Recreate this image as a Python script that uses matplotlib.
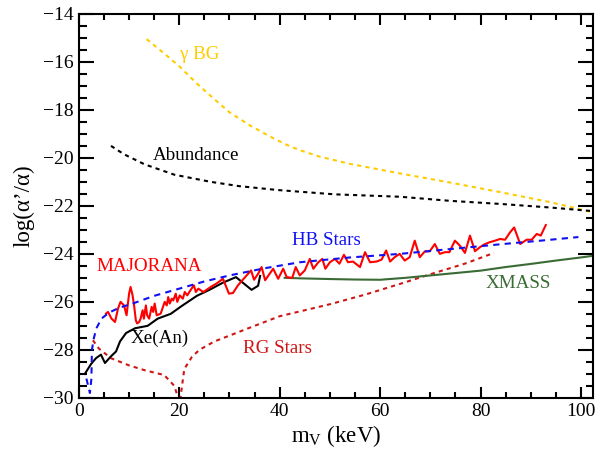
import matplotlib
matplotlib.use("Agg")
import matplotlib.pyplot as plt
from matplotlib.ticker import MultipleLocator

plt.rcParams['font.family'] = ['Liberation Serif', 'DejaVu Serif']
plt.rcParams['mathtext.fontset'] = 'custom'
plt.rcParams['mathtext.rm'] = 'Liberation Serif'
plt.rcParams['mathtext.it'] = 'Liberation Serif:italic'

# gamma background (dotted gold)
bg_x = [13.5, 17.0, 20.1, 23.5, 26.7, 30.0, 34.1, 38.0, 41.0, 44.0, 48.0, 54.0, 64.0, 74.0,
        84.0, 94.0, 102.4]
bg_y = [-15.05, -15.65, -16.2, -16.9, -17.5, -18.1, -18.65, -19.1, -19.42, -19.68, -19.95,
        -20.25, -20.65, -21.03, -21.43, -21.85, -22.27]

# relic abundance (dotted black)
ab_x = [6.4, 9.0, 13.1, 19.0, 26.3, 32.0, 39.6, 44.0, 51.0, 64.0, 73.9, 84.0, 94.0, 102.4]
ab_y = [-19.5, -19.85, -20.27, -20.7, -21.0, -21.18, -21.34, -21.41, -21.52, -21.62, -21.79,
        -21.92, -22.07, -22.22]

# HB stars (dashed blue)
hb_x = [1.5, 2.2, 2.5, 2.6, 3.0, 3.5, 4.5, 6.0, 8.0, 11.0, 15.0, 20.0, 25.0, 30.0, 37.0,
        44.0, 54.0, 64.0, 74.0, 84.0, 92.0, 99.5]
hb_y = [-29.2, -29.8, -29.2, -28.0, -27.5, -27.1, -26.7, -26.45, -26.25, -26.05, -25.75,
        -25.45, -25.15, -24.9, -24.6, -24.35, -24.15, -24.0, -23.8, -23.6, -23.45, -23.3]

# RG stars (dotted dark red)
rg_x = [2.8, 4.0, 6.4, 10.0, 13.1, 17.0, 19.0, 20.1, 21.0, 22.5, 24.0, 27.0, 30.7, 35.0,
        40.0, 45.0, 50.0, 57.0, 64.0, 70.0, 77.0, 82.7]
rg_y = [-27.6, -27.95, -28.35, -28.65, -28.85, -29.05, -29.5, -30.2, -28.8, -28.3, -28.0,
        -27.65, -27.35, -27.0, -26.6, -26.35, -26.1, -25.7, -25.25, -24.85, -24.4, -23.96]

# XMASS (solid green)
xm_x = [41.0, 44.0, 50.0, 55.0, 60.0, 65.0, 70.0, 75.0, 80.0, 85.0, 90.0, 95.0, 100.0, 102.4]
xm_y = [-25.0, -25.02, -25.05, -25.07, -25.08, -25.0, -24.9, -24.8, -24.7, -24.55, -24.42,
        -24.28, -24.15, -24.08]

# Xe(An) (solid black)
xe_x = [1.2, 2.4, 3.4, 4.4, 5.2, 6.4, 7.4, 8.2, 9.4, 11.2, 13.7, 15.7, 18.3, 20.3, 23.5,
        26.0, 28.7, 31.3, 34.4, 35.7, 36.1]
xe_y = [-29.0, -28.6, -28.35, -28.2, -28.55, -28.27, -28.07, -27.65, -27.3, -27.1, -27.0,
        -26.7, -26.5, -26.2, -25.75, -25.5, -25.2, -24.97, -25.5, -25.33, -24.92]

# MAJORANA (solid red)
mj_x = [5.4, 5.8, 6.5, 7.2, 7.8, 8.3, 9.0, 9.5, 10.0, 10.3, 10.7, 11.0, 11.35, 11.6, 12.0,
        12.3, 12.7, 12.95, 13.35, 13.6, 14.0, 14.5, 14.8, 15.1, 15.5, 16.3, 17.1, 17.5,
        17.8, 18.1, 18.5, 18.8, 19.3, 19.6, 20.1, 20.7, 21.1, 21.6, 22.0, 22.9, 23.3, 23.8,
        24.8, 26.4, 27.4, 28.7, 29.9, 30.7, 31.7, 33.4, 34.3, 34.9, 35.7, 36.4, 37.1, 38.0,
        38.7, 39.7, 40.7, 41.4, 42.5, 43.2, 44.0, 45.0, 46.0, 46.7, 47.7, 48.5, 49.1,
        50.0, 51.0, 51.9, 52.8, 53.6, 54.6, 56.0, 57.0, 58.0, 59.3, 60.3, 61.2, 62.0, 62.9,
        63.9, 64.9, 65.9, 66.9, 67.9, 68.9, 69.9, 70.9, 71.9, 72.9, 73.8, 74.9, 75.9, 76.9,
        77.9, 78.9, 79.9, 80.9, 81.9, 82.9, 83.9, 84.9, 85.9, 86.7, 87.9, 89.2, 90.2, 91.2,
        92.0, 93.0]
mj_y = [-26.49, -26.42, -26.70, -26.84, -26.28, -26.0, -26.15, -26.56, -25.66, -25.38,
        -25.73, -26.15, -26.77, -26.9, -26.84, -26.70, -26.35, -26.70, -26.15, -26.56,
        -26.70, -26.21, -26.42, -26.07, -26.56, -26.49, -26.0, -26.15, -25.8, -26.07,
        -25.87, -25.94, -25.66, -26.0, -25.73, -25.87, -25.59, -25.73, -25.59, -25.31,
        -25.59, -25.45, -25.59, -25.36, -25.24, -25.04, -25.66, -25.63, -25.31, -24.9,
        -24.69, -25.08, -24.83, -24.55, -25.1, -24.83, -24.62, -25.04, -24.62, -24.97,
        -25.0, -24.55, -24.9, -24.69, -24.21, -24.62, -24.35, -24.21, -24.62,
        -24.35, -24.21, -24.41, -24.04, -24.35, -24.32, -24.55, -23.93, -24.35, -24.32,
        -24.24, -23.86, -24.32, -24.14, -24.0, -24.28, -24.14, -23.45, -24.14, -23.9,
        -23.89, -23.59, -24.0, -23.93, -23.93, -23.45, -23.66, -23.96, -23.24, -23.89,
        -23.72, -23.59, -23.51, -23.45, -23.38, -23.41, -23.1, -22.9, -23.59, -23.41,
        -23.41, -23.17, -23.24, -22.8]

gold = '#FFCC00'
blue = '#1010F0'
red = '#FF0000'
dred = '#D01515'
green = '#3A6B35'

fig = plt.figure(figsize=(6.02, 4.49), dpi=100)
ax = fig.add_axes([0.131, 0.114, 0.854, 0.855])

ax.plot(bg_x, bg_y, color=gold, lw=1.5, dashes=(2, 2))
ax.plot(ab_x, ab_y, color='black', lw=1.5, dashes=(2, 2))
ax.plot(rg_x, rg_y, color=dred, lw=1.5, dashes=(2, 2))
ax.plot(xm_x, xm_y, color=green, lw=1.5)
ax.plot(xe_x, xe_y, color='black', lw=1.5)
ax.plot(mj_x, mj_y, color=red, lw=1.5)
ax.plot(hb_x, hb_y, color=blue, lw=1.5, dashes=(3, 2.5))

fs = 13.7
ax.text(20.1, -15.7, 'γ BG', color=gold, fontsize=fs, va='center')
ax.text(14.7, -19.9, 'Abundance', color='black', fontsize=fs, va='center')
ax.text(42.4, -23.46, 'HB Stars', color=blue, fontsize=fs, va='center')
ax.text(3.6, -24.54, 'MAJORANA', color=red, fontsize=fs, va='center')
ax.text(10.4, -27.53, 'Xe(An)', color='black', fontsize=fs, va='center')
ax.text(32.7, -27.94, 'RG Stars', color=dred, fontsize=fs, va='center')
ax.text(81.0, -25.22, 'XMASS', color=green, fontsize=fs, va='center')

ax.set_xlim(0, 102.4)
ax.set_ylim(-30, -14)
ax.xaxis.set_major_locator(MultipleLocator(20))
ax.xaxis.set_minor_locator(MultipleLocator(5))
ax.yaxis.set_major_locator(MultipleLocator(2))
ax.yaxis.set_minor_locator(MultipleLocator(0.5))

ax.tick_params(axis='both', which='both', direction='in', top=True, right=True,
               width=1.5, labelsize=14)
ax.tick_params(axis='x', which='major', length=8, pad=4)
ax.tick_params(axis='x', which='minor', length=4.3)
ax.tick_params(axis='y', which='major', length=10.8, pad=4)
ax.tick_params(axis='y', which='minor', length=5.4)
for s in ax.spines.values():
    s.set_linewidth(1.5)

ax.set_xlabel(r'm$_{\mathrm{V}}$ (keV)', fontsize=16.5, labelpad=2)
ax.set_ylabel('log(α’/α)', fontsize=16.5, labelpad=6)

fig.savefig('out.png', dpi=100)
